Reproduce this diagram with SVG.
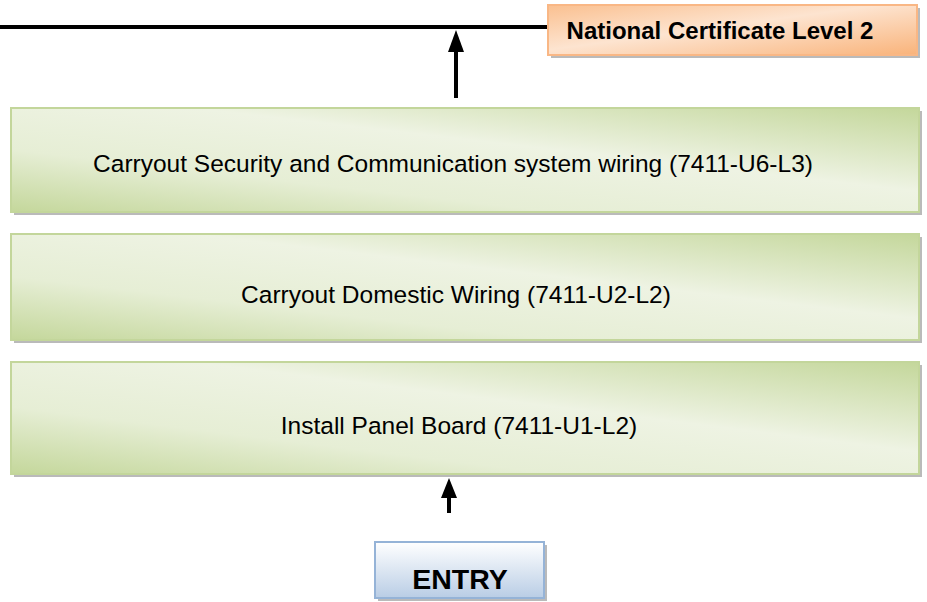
<svg xmlns="http://www.w3.org/2000/svg" width="927" height="602" viewBox="0 0 927 602">
<style>
.t{font-family:"Liberation Sans",Arial,sans-serif;font-size:24.5px;fill:#000;text-anchor:middle}
.b{font-family:"Liberation Sans",Arial,sans-serif;font-weight:bold;fill:#000;text-anchor:middle}
.shadow{fill:#8c8c8c;opacity:0.6}
.green{fill:url(#gg);stroke:#c3d69b;stroke-width:2}
</style>
<defs>
<linearGradient id="gg" x1="0" y1="1" x2="1" y2="0">
<stop offset="0" stop-color="#c4d79b"/>
<stop offset="0.3" stop-color="#e6eed5"/>
<stop offset="0.6" stop-color="#eef3e3"/>
<stop offset="1" stop-color="#c4d79b"/>
</linearGradient>
<linearGradient id="og" x1="0" y1="0" x2="1" y2="1">
<stop offset="0" stop-color="#fac090"/>
<stop offset="0.45" stop-color="#fde4d0"/>
<stop offset="1" stop-color="#f9b37a"/>
</linearGradient>
<linearGradient id="bg" x1="0" y1="0" x2="0" y2="1">
<stop offset="0" stop-color="#ffffff"/>
<stop offset="1" stop-color="#b9cde5"/>
</linearGradient>
</defs>
<g id="connectors">
<line x1="0" y1="27" x2="560" y2="27" stroke="#000" stroke-width="4"/>
<line x1="456" y1="98" x2="456" y2="50" stroke="#000" stroke-width="4"/>
<polygon points="456,30 448,52 464,52" fill="#000"/>
<line x1="449" y1="513" x2="449" y2="496" stroke="#000" stroke-width="4"/>
<polygon points="449,478 441,498 457,498" fill="#000"/>
</g>
<g id="ncl2">
<rect x="551" y="8" width="369" height="50" class="shadow"/>
<rect x="548" y="5" width="369" height="50" fill="url(#og)" stroke="#f9b785" stroke-width="2"/>
<text x="720" y="39" class="b" font-size="24">National Certificate Level 2</text>
</g>
<g id="u6">
<rect x="14" y="111" width="908" height="104" class="shadow"/>
<rect x="11" y="108" width="908" height="104" class="green"/>
<text x="453" y="172" class="t">Carryout Security and Communication system wiring (7411-U6-L3)</text>
</g>
<g id="u2">
<rect x="14" y="237" width="908" height="106" class="shadow"/>
<rect x="11" y="234" width="908" height="106" class="green"/>
<text x="456" y="303" class="t">Carryout Domestic Wiring (7411-U2-L2)</text>
</g>
<g id="u1">
<rect x="14" y="365" width="908" height="112" class="shadow"/>
<rect x="11" y="362" width="908" height="112" class="green"/>
<text x="459" y="434" class="t">Install Panel Board (7411-U1-L2)</text>
</g>
<g id="entry">
<rect x="378" y="545" width="169" height="56" class="shadow"/>
<rect x="375" y="542" width="169" height="56" fill="url(#bg)" stroke="#95b3d7" stroke-width="2"/>
<text x="460" y="589" class="b" font-size="28.5">ENTRY</text>
</g>
</svg>
